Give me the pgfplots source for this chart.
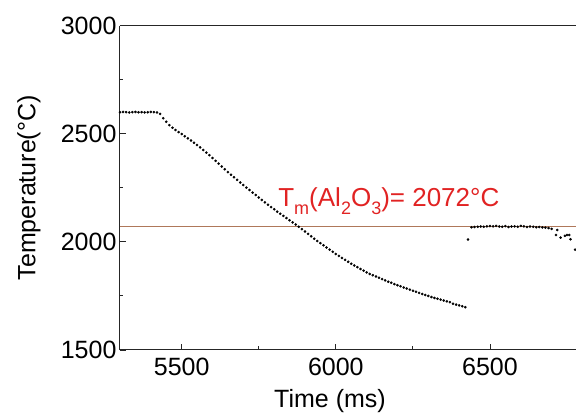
\documentclass[border=0pt]{standalone}
\usepackage{pgfplots}
\pgfplotsset{compat=1.18}
\usepackage{fontspec}
\setmainfont{Liberation Sans}

\definecolor{meltline}{RGB}{175,120,90}
\definecolor{labelred}{RGB}{225,35,35}

\begin{document}
\begin{tikzpicture}
\begin{axis}[
    scale only axis,
    width=456pt, height=324.3pt,
    xmin=5300, xmax=6779,
    ymin=1500, ymax=3000,
    xtick={5500,6000,6500},
    ytick={1500,2000,2500,3000},
    minor x tick num=1,
    minor y tick num=1,
    scaled ticks=false,
    /pgf/number format/1000 sep={},
    /pgf/number format/assume math mode=true,
    tick align=inside,
    major tick length=6pt,
    minor tick length=3.5pt,
    axis y line*=left,
    xtick pos=bottom,
    axis line style={-, line width=1pt, black!85},
    every tick/.style={line width=0.9pt, black!85},
    tick label style={font=\fontsize{25}{28}\selectfont},
    xticklabel style={yshift=-5pt},
    label style={font=\fontsize{25}{28}\selectfont},
    xlabel={Time (ms)},
    ylabel={Temperature(°C)},
    xlabel style={at={(axis description cs:0.4605,-0.1788)}, anchor=base},
    ylabel style={at={(axis description cs:-0.1995,0.5)}, anchor=center},
]

% melting point of Al2O3
\addplot[meltline, line width=1pt, forget plot] coordinates {(5300,2072) (6779,2072)};

% cooling curve
\addplot[only marks, mark=*, mark size=1.1pt, mark options={fill=black, draw=none}] coordinates {
    (5300,2600)(5310,2601)(5320,2600)(5330,2599)(5340,2600)(5350,2601)(5360,2600)
    (5370,2600)(5380,2599)(5390,2600)(5400,2601)(5410,2600)(5420,2599)
    (5430,2592)(5440,2572)(5450,2556)(5460,2540)(5470,2528)(5480,2518)(5490,2508)
    (5500,2499)(5510,2489)(5520,2479)(5530,2469)(5540,2459)(5550,2448)(5560,2437)
    (5570,2425)(5580,2413)(5590,2401)(5600,2388)(5610,2375)(5620,2362)(5630,2349)
    (5640,2336)(5650,2323)(5660,2311)(5670,2299)(5680,2287)(5690,2275)(5700,2263)
    (5710,2251)(5720,2240)(5730,2228)(5740,2217)(5750,2205)(5760,2194)(5770,2183)
    (5780,2172)(5790,2161)(5800,2151)(5810,2140)(5820,2130)(5830,2120)(5840,2110)
    (5850,2100)(5860,2090)(5870,2080)(5880,2070)(5890,2059)(5900,2048)(5910,2037)
    (5920,2026)(5930,2015)(5940,2004)(5950,1994)(5960,1984)(5970,1974)(5980,1964)
    (5990,1954)(6000,1944)(6010,1935)(6020,1926)(6030,1917)(6040,1908)(6050,1899)
    (6060,1891)(6070,1883)(6080,1875)(6090,1867)(6100,1859)(6110,1852)(6120,1846)
    (6130,1840)(6140,1834)(6150,1828)(6160,1822)(6170,1816)(6180,1811)(6190,1805)
    (6200,1800)(6210,1795)(6220,1789)(6230,1784)(6240,1779)(6250,1774)(6260,1769)
    (6270,1764)(6280,1759)(6290,1754)(6300,1750)(6310,1745)(6320,1741)(6330,1737)
    (6340,1733)(6350,1729)(6360,1725)(6370,1721)(6380,1714)(6390,1710)(6400,1706)
    (6410,1702)(6420,1698)
};

% after the gap
\addplot[only marks, mark=*, mark size=1.1pt, mark options={fill=black, draw=none}] coordinates {
    (6429,2011)
    (6440,2068)(6450,2069)(6460,2070)(6470,2071)(6480,2070)(6490,2072)(6500,2073)
    (6510,2072)(6520,2074)(6530,2071)(6540,2070)(6550,2073)(6560,2069)(6570,2071)
    (6580,2072)(6590,2070)(6600,2074)(6610,2072)(6620,2069)(6630,2071)(6640,2070)
    (6650,2068)(6660,2069)(6670,2067)(6680,2066)(6690,2064)
    (6700,2060)(6718,2055)(6714,2032)(6729,2020)(6743,2028)(6750,2032)(6757,2032)
    (6761,2012)(6776,1964)
};

\node[anchor=base west, inner sep=0pt, text=labelred, font=\fontsize{26}{28}\selectfont]
    at (axis cs:5813,2163)
    {T\raisebox{-8pt}{\fontsize{18}{18}\selectfont m}(Al\raisebox{-8pt}{\fontsize{18}{18}\selectfont 2}O\raisebox{-8pt}{\fontsize{18}{18}\selectfont 3})= 2072°C};
\end{axis}
\pgfresetboundingbox
\path[use as bounding box] (-120pt,-64pt) rectangle (456pt,350pt);
\end{tikzpicture}
\end{document}
